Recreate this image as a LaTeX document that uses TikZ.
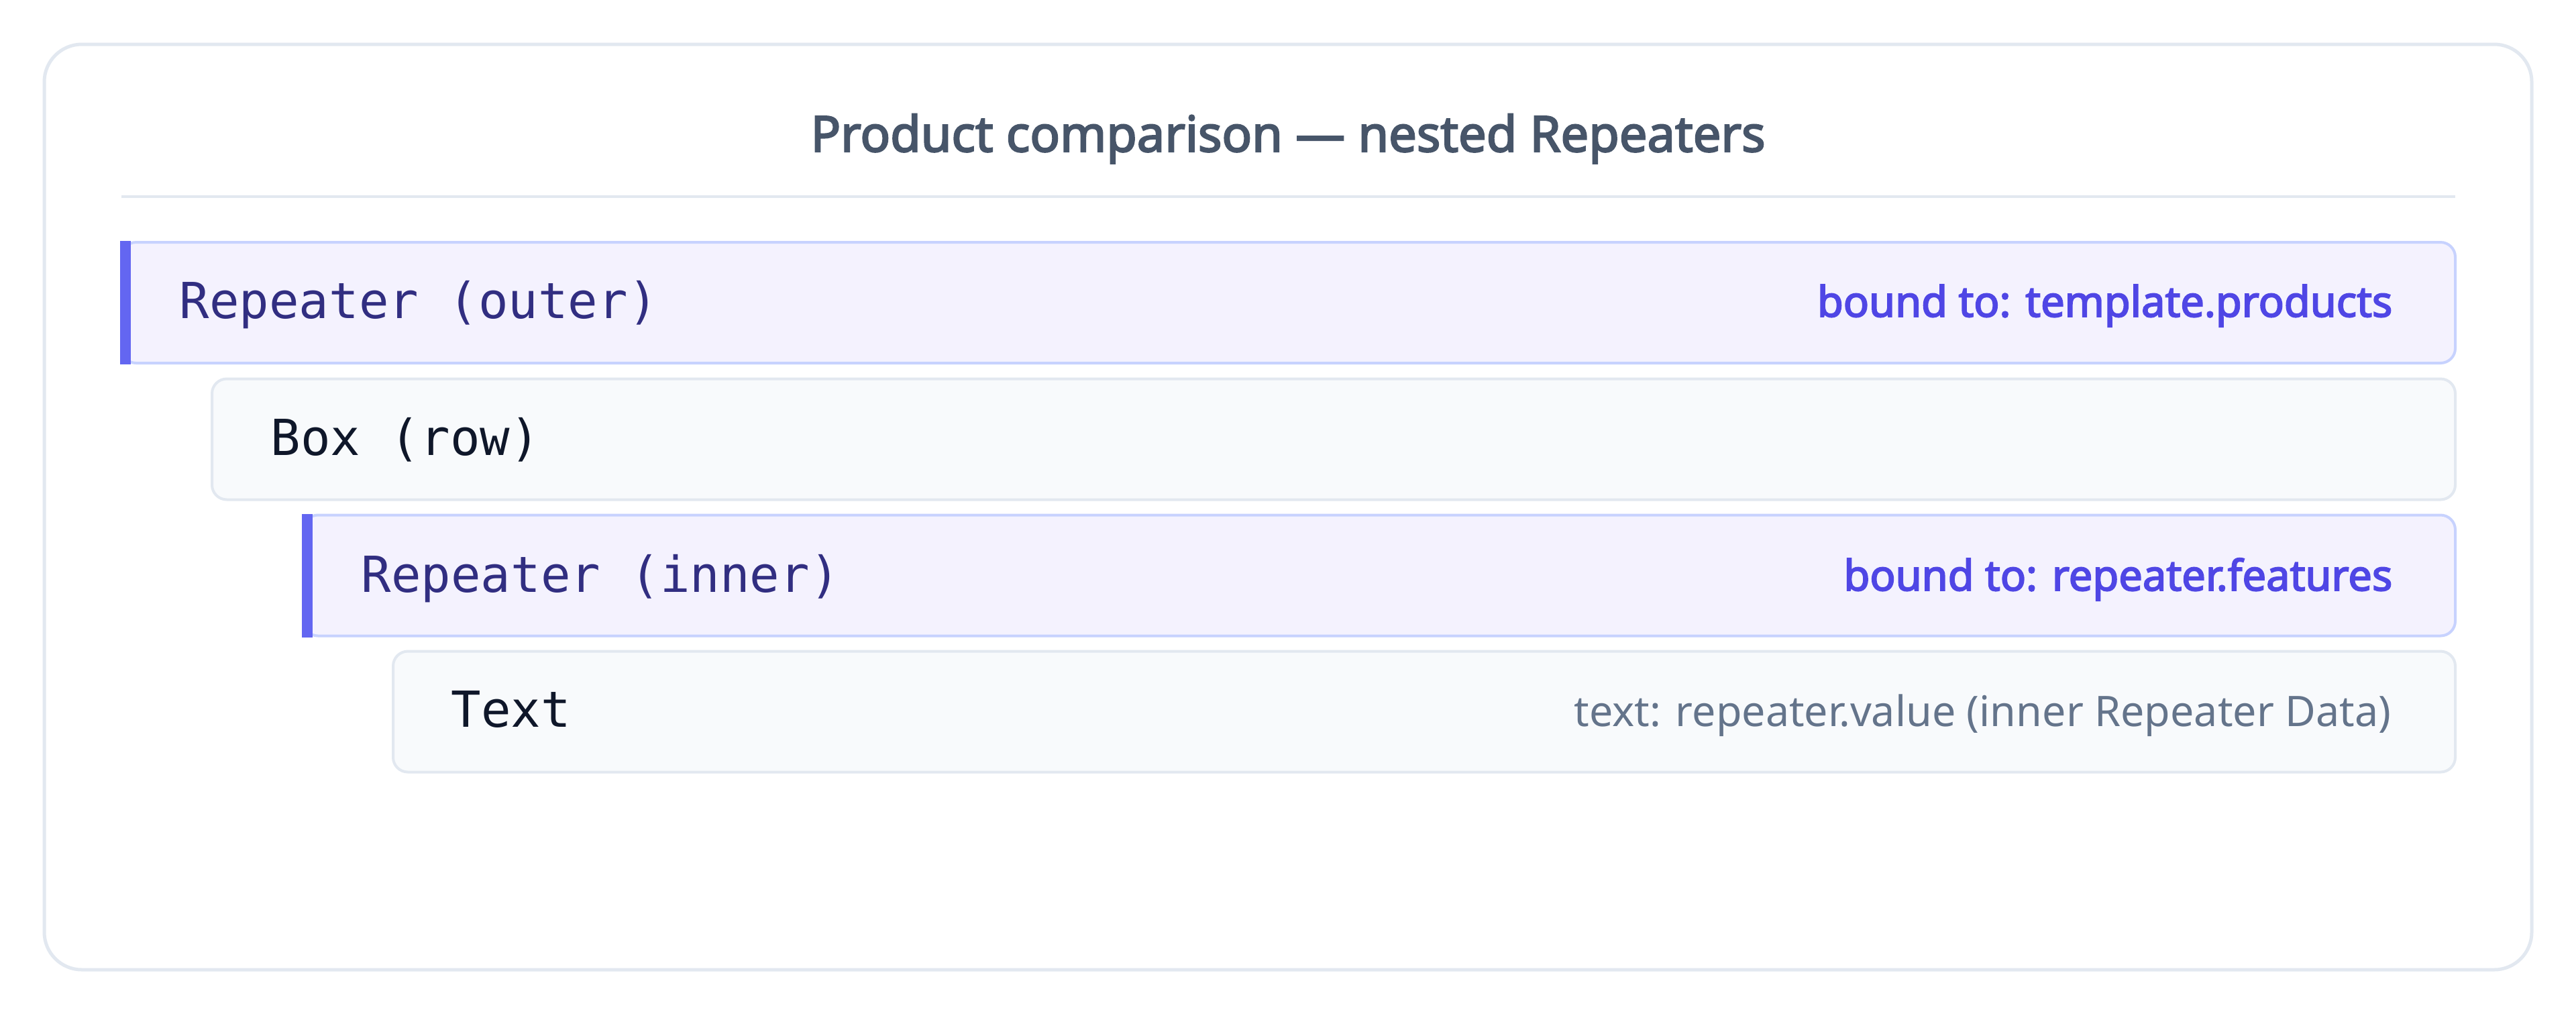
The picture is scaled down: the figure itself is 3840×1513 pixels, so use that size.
\documentclass[tikz,border=0pt]{standalone}
\usepackage{fontspec}
\setmainfont{Noto Sans}
\newfontfamily\monof{DejaVu Sans Mono}
\newfontfamily\sbf{Noto Sans}[FakeBold=3]
\definecolor{cardline}{HTML}{E2E8F0}
\definecolor{titlec}{HTML}{475569}
\definecolor{repfill}{HTML}{F4F2FE}
\definecolor{repline}{HTML}{C7D2FE}
\definecolor{accent}{HTML}{6366F1}
\definecolor{reptext}{HTML}{312E81}
\definecolor{bound}{HTML}{4F46E5}
\definecolor{boxfill}{HTML}{F8FAFC}
\definecolor{boxtext}{HTML}{0F172A}
\definecolor{meta}{HTML}{64748B}
\tikzset{
  cardbox/.style={draw=cardline, line width=1.25pt, fill=white, rounded corners=14pt},
  repbox/.style={draw=repline, line width=1pt, fill=repfill, rounded corners=5.5pt, minimum height=45pt, inner sep=0pt},
  plainbox/.style={draw=cardline, line width=1pt, fill=boxfill, rounded corners=5.5pt, minimum height=45pt, inner sep=0pt},
  accentbar/.style={fill=accent},
  titletxt/.style={font=\sbf\fontsize{18.5pt}{22pt}\selectfont, text=titlec, inner sep=0pt},
  montxt/.style={font=\monof\fontsize{18.5pt}{22pt}\selectfont, inner sep=0pt},
  lbltxt/.style={font=\sbf\fontsize{15.8pt}{19pt}\selectfont, text=bound, inner sep=0pt},
  metatxt/.style={font=\fontsize{15.7pt}{19pt}\selectfont, text=meta, inner sep=0pt}
}
\begin{document}
\begin{tikzpicture}[x=0.25pt,y=-0.25pt]
\useasboundingbox (0,0) rectangle (3840,1513);
\fill[white] (0,0) rectangle (3840,1513);
% card
\draw[cardbox] (66,66) rectangle (3774,1445);
\node[titletxt, anchor=base] (title) at (1920,226) {Product comparison — nested Repeaters};
\coordinate (sepL) at (181,293);
\coordinate (sepR) at (3660,293);
\draw[cardline, line width=1pt] (sepL) -- (sepR);
% outer repeater
\node[repbox, minimum width=869.75pt] (outer) at (1920.5,451) {};
\fill[accentbar] (outer.north west) rectangle ([xshift=4pt]outer.south west);
\node[montxt, text=reptext, anchor=base west] (outert) at (267,474) {Repeater (outer)};
\node[lbltxt, anchor=base east] (outerl) at (3567,472) {bound to: template.products};
% box row
\node[plainbox, minimum width=836pt] (row) at (1988,654.5) {};
\node[montxt, text=boxtext, anchor=base west] (rowt) at (403,678) {Box (row)};
% inner repeater
\node[repbox, minimum width=802pt] (inner) at (2056,857.5) {};
\fill[accentbar] (inner.north west) rectangle ([xshift=4pt]inner.south west);
\node[montxt, text=reptext, anchor=base west] (innert) at (538,882) {Repeater (inner)};
\node[lbltxt, anchor=base east] (innerl) at (3567,880) {bound to: repeater.features};
% text
\node[plainbox, minimum width=768.5pt] (textb) at (2123,1060.5) {};
\node[montxt, text=boxtext, anchor=base west] (textt) at (672,1083) {Text};
\node[metatxt, anchor=base east] (textm) at (3565,1082) {text: repeater.value (inner Repeater Data)};
\end{tikzpicture}
\end{document}
